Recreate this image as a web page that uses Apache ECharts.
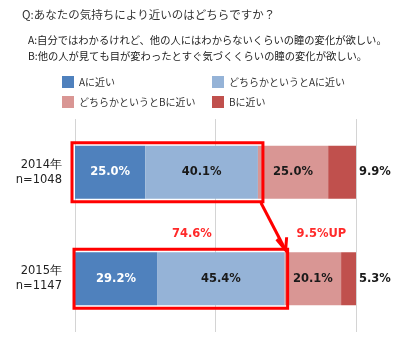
<!DOCTYPE html>
<html><head><meta charset="utf-8">
<script src="https://cdn.jsdelivr.net/npm/echarts@6/dist/echarts.min.js"></script>
<style>html,body{margin:0;padding:0;background:#fff}#c{width:400px;height:338px}</style>
</head><body><div id="c"></div>
<script>
var titleText = 'Q:あなたの気持ちにより近いのはどちらですか？';
var noteA = 'A:自分ではわかるけれど、他の人にはわからないくらいの瞳の変化が欲しい。';
var noteB = 'B:他の人が見ても目が変わったとすぐ気づくくらいの瞳の変化が欲しい。';
var categories = ['2014年\nn=1048', '2015年\nn=1147'];
var seriesNames = ['Aに近い', 'どちらかというとAに近い', 'どちらかというとBに近い', 'Bに近い'];
var valA = [25.0, 29.2];
var valA2 = [40.1, 45.4];
var valB2 = [25.0, 20.1];
var valB = [9.9, 5.3];
var colors = ['#4f81bd', '#95b3d7', '#d99694', '#c0504d'];
var annoTotal = '74.6%';
var annoUp = '9.5%UP';

var JP = '"Noto Sans CJK JP", sans-serif';
var NUM = '"DejaVu Sans", Verdana, sans-serif';
var chart = echarts.init(document.getElementById('c'), null, {renderer: 'canvas'});
var allVals = [valA, valA2, valB2, valB];
function mkSeries(i) {
  var last = i === 3;
  return {
    name: seriesNames[i], type: 'bar', stack: 't', barWidth: 53,
    data: allVals[i], itemStyle: {color: colors[i]},
    label: {
      show: true, position: last ? 'right' : 'inside', distance: 3,
      formatter: function (p) { return p.value.toFixed(1) + '%'; },
      color: i === 0 ? '#fff' : '#1a1a1a', fontFamily: NUM, fontWeight: 'bold', fontSize: 11.5
    },
    emphasis: {disabled: true}
  };
}
var legendText = {fontFamily: JP, fontSize: 10, color: '#333'};
chart.setOption({
  animation: false,
  grid: {left: 75, right: 44, top: 119, bottom: 6},
  title: [
    {text: titleText, left: 17, top: 4, textStyle: {fontFamily: JP, fontSize: 11.5, fontWeight: 'normal', color: '#333'}},
    {text: noteA, left: 23, top: 30, textStyle: {fontFamily: JP, fontSize: 10.3, fontWeight: 'normal', color: '#222'}},
    {text: noteB, left: 23, top: 46, textStyle: {fontFamily: JP, fontSize: 10.3, fontWeight: 'normal', color: '#222'}}
  ],
  legend: [
    {orient: 'vertical', left: 62, top: 76, padding: 0, itemWidth: 12, itemHeight: 12, itemGap: 8, icon: 'rect',
     data: [seriesNames[0], seriesNames[2]], textStyle: legendText, selectedMode: false},
    {orient: 'vertical', left: 212, top: 76, padding: 0, itemWidth: 12, itemHeight: 12, itemGap: 8, icon: 'rect',
     data: [seriesNames[1], seriesNames[3]], textStyle: legendText, selectedMode: false}
  ],
  xAxis: {type: 'value', min: 0, max: 100, interval: 50,
    axisLabel: {show: false}, axisLine: {show: false}, axisTick: {show: false},
    splitLine: {lineStyle: {color: '#d4d4d4', width: 1}}},
  yAxis: {type: 'category', inverse: true, data: categories,
    axisLine: {show: false}, axisTick: {show: false},
    axisLabel: {margin: 13, fontFamily: NUM, fontSize: 11.5, color: '#222', lineHeight: 15, align: 'right', padding: [3, 0, 0, 0]}},
  series: [0, 1, 2, 3].map(mkSeries)
});

// annotations computed from data positions
function px(v, c) { return chart.convertToPixel({gridIndex: 0}, [v, c]); }
var half = 53 / 2;
var s0 = valA[0] + valA2[0], s1 = valA[1] + valA2[1];
var p00 = px(0, 0), p0e = px(s0, 0), p10 = px(0, 1), p1e = px(s1, 1);
var red = '#ff0000';
var box1 = {x: p00[0] - 3, y: p00[1] - half - 3, w: p0e[0] - p00[0] + 8, h: 53 + 6};
var box2 = {x: p10[0] - 1, y: p10[1] - half - 3, w: p1e[0] - p10[0] + 4, h: 53 + 6};
var tail = [box1.x + box1.w - 2, box1.y + box1.h + 1];
var tip = [box2.x + box2.w - 2, box2.y + 1];
var labY = p10[1] - 44.5;
chart.setOption({
  graphic: [
    {type: 'rect', shape: {x: box1.x, y: box1.y, width: box1.w, height: box1.h}, style: {fill: 'none', stroke: red, lineWidth: 3}, z: 100},
    {type: 'rect', shape: {x: box2.x, y: box2.y, width: box2.w, height: box2.h}, style: {fill: 'none', stroke: red, lineWidth: 3}, z: 100},
    {type: 'line', shape: {x1: tail[0], y1: tail[1], x2: tip[0], y2: tip[1]}, style: {stroke: red, lineWidth: 3}, z: 100},
    {type: 'polyline', shape: {points: [[tip[0] - 9, tip[1] - 11], tip, [tip[0] + 1, tip[1] - 13]]}, style: {fill: 'none', stroke: red, lineWidth: 3}, z: 100},
    {type: 'text', x: px(41.6, 1)[0], y: labY, style: {text: annoTotal, fill: '#ff2a2a', font: 'bold 11.5px ' + NUM, textAlign: 'center', textVerticalAlign: 'middle'}, z: 100},
    {type: 'text', x: px(87.7, 1)[0], y: labY, style: {text: annoUp, fill: '#ff2a2a', font: 'bold 11.5px ' + NUM, textAlign: 'center', textVerticalAlign: 'middle'}, z: 100}
  ]
});
</script></body></html>
